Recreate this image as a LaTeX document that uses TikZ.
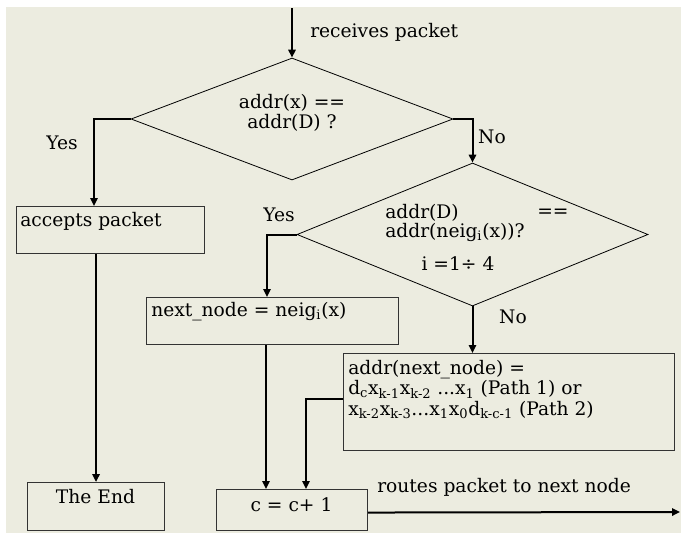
\documentclass[tikz,border=0pt]{standalone}
\usepackage{fontspec}
\setmainfont{DejaVu Serif}
\usetikzlibrary{shapes.geometric,arrows.meta,calc}
\definecolor{bg}{RGB}{236,236,224}
\begin{document}
\begin{tikzpicture}[x=0.75pt,y=-0.75pt,
  conn/.style={line width=1.5pt,-{Triangle[length=6pt,width=5.5pt]}},
  seg/.style={line width=1.5pt},
  dec/.style={draw,diamond,line width=0.6pt,inner sep=0pt},
  box/.style={draw=black!80,line width=0.8pt,rectangle,inner sep=0pt,anchor=north west},
  txt/.style={inner sep=0pt,font=\fontsize{14}{15.4}\selectfont},
]
\useasboundingbox (0,0) rectangle (681,533);
\fill[bg] (6,7) rectangle (681,533);

% shapes
\node[dec,minimum width=241.5pt,minimum height=91.5pt] (d1) at (292,119) {};
\node[dec,minimum width=263.25pt,minimum height=107.25pt] (d2) at (472.5,234.5) {};
\node[box,minimum width=141pt,minimum height=35.25pt] (acc) at (16,206) {};
\node[box,minimum width=189pt,minimum height=35.25pt] (nn) at (146,297) {};
\node[box,minimum width=248.25pt,minimum height=72.75pt] (pb) at (343,353) {};
\node[box,minimum width=102.75pt,minimum height=36pt] (end) at (27,482) {};
\node[box,minimum width=113.25pt,minimum height=30.75pt] (cbox) at (216,489) {};

% texts
\node[txt,anchor=west] (trecv) at (310,32) {receives packet};
\node[txt,align=center] (td1) at (292,113) {addr(x) ==\\addr(D) ?};
\node[txt] (tyes1) at (62,143) {Yes};
\node[txt] (tno1) at (492,137) {No};
\node[txt,anchor=west] (td2a) at (385,213) {addr(D)};
\node[txt,anchor=west] (td2b) at (537,213) {==};
\node[txt,anchor=west] (td2c) at (385,232) {addr(neig\textsubscript{i}(x))?};
\node[txt] (td2d) at (458,264) {i =1÷ 4};
\node[txt] (tyes2) at (279,215) {Yes};
\node[txt] (tno2) at (513,317) {No};
\node[txt,anchor=west] (tacc) at (20,221) {accepts packet};
\node[txt,anchor=west] (tnn) at (151,312) {next\_node = neig\textsubscript{i}(x)};
\node[txt,anchor=north west,align=left] (tpb) at (348,360) {addr(next\_node) =\\
d\textsubscript{c}x\textsubscript{k-1}x\textsubscript{k-2} ...x\textsubscript{1} (Path 1) or\\
x\textsubscript{k-2}x\textsubscript{k-3}...x\textsubscript{1}x\textsubscript{0}d\textsubscript{k-c-1} (Path 2)};
\node[txt] (tend) at (95.5,497) {The End};
\node[txt] (tc) at (291.5,505) {c = c+ 1};
\node[txt,anchor=west] (troute) at (377,487) {routes packet to next node};

% connectors
\coordinate (start) at (292,8);
\coordinate (out) at (680,512);
\coordinate (c1) at ($(cbox.north west)+(50,0)$);
\coordinate (c2) at ($(cbox.north west)+(90,0)$);
\coordinate (a1) at ($(acc.north west)+(78,0)$);
\coordinate (a2) at ($(nn.north west)+(121,0)$);
\draw[conn] (start) -- (d1.north);
\draw[conn] (d1.west) -| (a1);
\draw[conn] (d1.east) -| (d2.north);
\draw[conn] (d2.west) -| (a2);
\draw[conn] (d2.south) -- (d2.south |- pb.north);
\draw[conn] (end.north |- acc.south) -- (end.north);
\draw[conn] (c1 |- nn.south) -- (c1);
\draw[conn] ($(pb.west)+(0,-3.5)$) -| (c2);
\draw[conn] ($(cbox.east)+(0,2.5)$) -- (out);
\end{tikzpicture}
\end{document}
